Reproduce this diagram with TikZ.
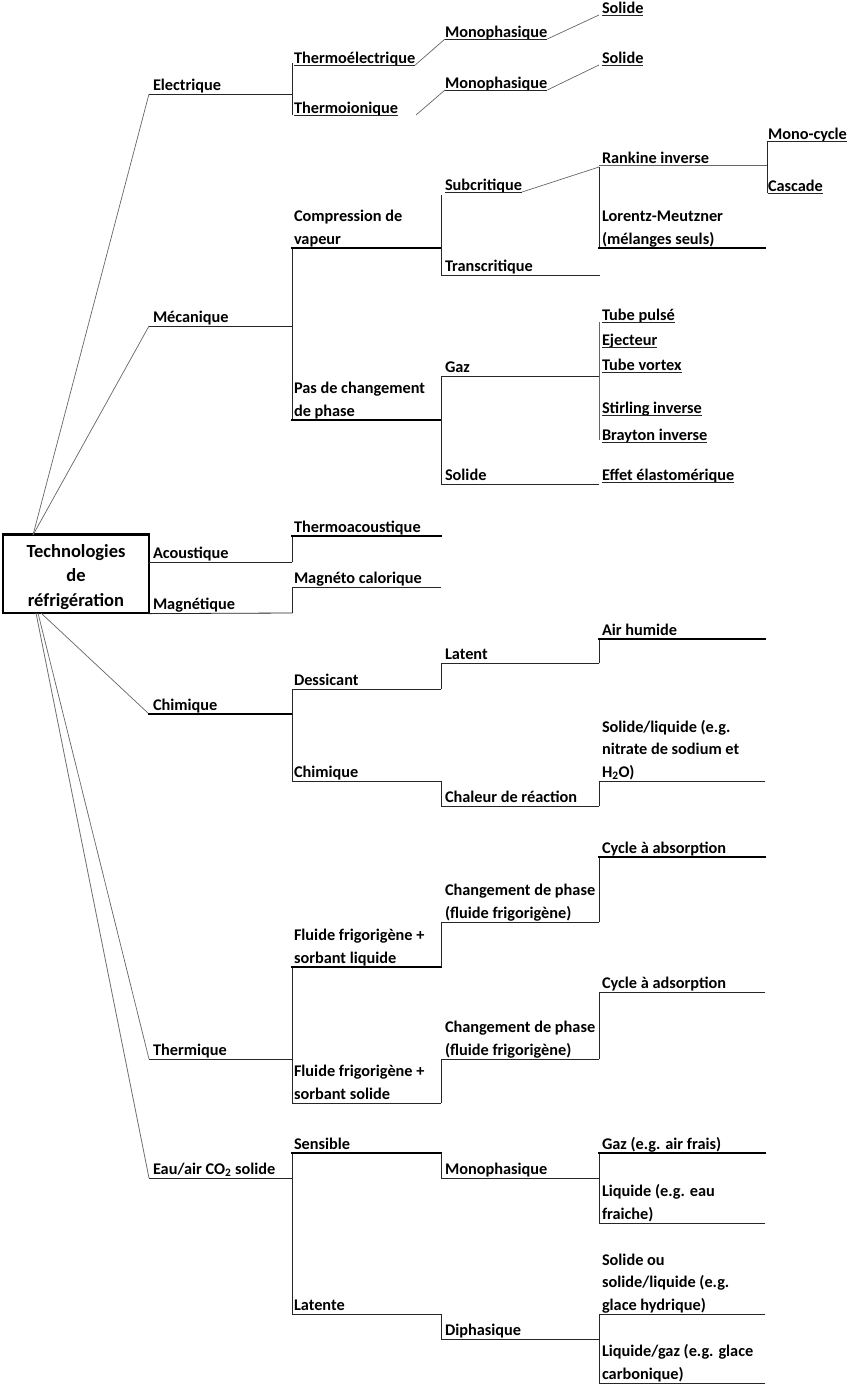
\documentclass[tikz,border=0pt]{standalone}
\usepackage{fontspec}
\setmainfont{Carlito}
\newcommand\lblfont{\fontsize{16.3}{22.5}\selectfont\bfseries}
\newcommand\ttlfont{\fontsize{18.5}{24.5}\selectfont\bfseries}
\tikzset{
  lbl/.style={anchor=base west, inner sep=0pt, outer sep=0pt, font=\lblfont, align=left},
  ln/.style={line width=0.8pt, black!85, line cap=rect},
  thk/.style={line width=1.5pt, black, line cap=rect},
  diag/.style={line width=0.7pt, black!60},
  ul/.style={line width=0.8pt, black!85},
}
\newcommand\ulnode[1]{\draw[ul] ([yshift=-2pt]#1.base west) -- ([yshift=-2pt]#1.base east);}
\begin{document}
\begin{tikzpicture}[x=1pt,y=-1pt]
\useasboundingbox (0,0) rectangle (848,1385);
\fill[white] (0,0) rectangle (848,1385);

% ---------- root ----------
\node[draw, line width=1.2pt, minimum width=146pt, minimum height=78pt, inner sep=0pt] (root) at (76,574) {};
\node[anchor=base, inner sep=0pt, align=center, font=\ttlfont] (ttl) at (76,606) {Technologies\\de\\réfrigération};
\draw[line width=2.4pt] (root.north west) -- (root.north east);
\coordinate (rtop) at (33,535);
\coordinate (rbA) at (41,613);
\coordinate (rbB) at (38,613);
\coordinate (rbC) at (36,613);

% ---------- level 1 labels ----------
\node[lbl] (elec) at (153,90) {Electrique};
\node[lbl] (meca) at (153,322) {Mécanique};
\node[lbl] (acou) at (153,558) {Acoustique};
\node[lbl] (magn) at (153,609) {Magnétique};
\node[lbl] (chim) at (153,710) {Chimique};
\node[lbl] (ther) at (153,1055) {Thermique};
\node[lbl] (eau)  at (153,1174) {Eau/air CO\textsubscript{2} solide};

% level 1 junction points
\coordinate (j1) at (149,94);
\coordinate (j2) at (149,326);
\coordinate (j5) at (149,714);
\coordinate (j6) at (149,1059);
\coordinate (j7) at (149,1178);

\draw[diag] (rtop) -- (j1);
\draw[diag] (rtop) -- (j2);
\draw[diag] (rbA) -- (j5);
\draw[diag] (rbB) -- (j6);
\draw[diag] (rbC) -- (j7);

% ---------- Electrique ----------
\draw[ln] (j1) -- (292,94);
\draw[ln] (292,63) -- (292,115);
\node[lbl] (thel) at (294,63) {Thermoélectrique}; \ulnode{thel}
\node[lbl] (thio) at (294,113) {Thermoionique}; \ulnode{thio}
\node[lbl] (mono1) at (445,37) {Monophasique}; \ulnode{mono1}
\node[lbl] (mono2) at (445,88) {Monophasique}; \ulnode{mono2}
\node[lbl] (sol1) at (602,13) {Solide}; \ulnode{sol1}
\node[lbl] (sol2) at (602,63) {Solide}; \ulnode{sol2}
\coordinate (thioend) at (416,115);
\draw[diag] ([yshift=-2pt]thel.base east) -- ([yshift=-2pt]mono1.base west);
\draw[diag] ([yshift=-2pt]mono1.base east) -- (599,15);
\draw[diag] (thioend) -- ([yshift=-2pt]mono2.base west);
\draw[diag] ([yshift=-2pt]mono2.base east) -- (599,65);

% ---------- Mecanique ----------
\draw[ln] (j2) -- (292,326);
\draw[ln] (292,248) -- (292,420);
\node[lbl] (comp) at (294,244) {Compression de\\vapeur};
\draw[thk] (292,248) -- (441,248);
\draw[ln] (441,195) -- (441,275);
\node[lbl] (subc) at (445,190) {Subcritique}; \ulnode{subc}
\draw[diag] ([yshift=-2pt]subc.base east) -- (599,167);
\draw[ln] (599,167) -- (599,248);
\node[lbl] (rank) at (602,163) {Rankine inverse}; \ulnode{rank}
\draw[diag] (599,165) -- (767,165);
\draw[ln] (767,141) -- (767,193);
\node[lbl] (monoc) at (768,139) {Mono-cycle}; \ulnode{monoc}
\node[lbl] (casc) at (768,191) {Cascade}; \ulnode{casc}
\node[lbl] (lore) at (602,244) {Lorentz-Meutzner\\(mélanges seuls)};
\draw[thk] (599,248) -- (765,248);
\node[lbl] (tran) at (445,271) {Transcritique};
\draw[ln] (441,275) -- (600,275);

\node[lbl] (pasc) at (294,416) {Pas de changement\\de phase};
\draw[thk] (292,420) -- (441,420);
\draw[ln] (441,376) -- (441,484);
\node[lbl] (gaz) at (445,372) {Gaz};
\draw[ln] (441,376) -- (599,376);
\draw[diag] (599,322) -- (599,440);
\node[lbl] (tubp) at (602,320) {Tube pulsé}; \ulnode{tubp}
\node[lbl] (ejec) at (602,345) {Ejecteur}; \ulnode{ejec}
\node[lbl] (tubv) at (602,370) {Tube vortex}; \ulnode{tubv}
\node[lbl] (stir) at (602,413) {Stirling inverse}; \ulnode{stir}
\node[lbl] (bray) at (602,440) {Brayton inverse}; \ulnode{bray}
\node[lbl] (soli) at (445,480) {Solide};
\draw[ln] (441,484) -- (599,484);
\node[lbl] (effe) at (602,480) {Effet élastomérique}; \ulnode{effe}

% ---------- Acoustique / Magnetique ----------
\draw[ln] (root.east |- 0,562) -- (292,562);
\draw[ln] (292,536) -- (292,562);
\node[lbl] (tac) at (294,532) {Thermoacoustique};
\draw[thk] (292,536) -- (441,536);
\draw[ln] (root.south east) -- (292,613);
\draw[ln] (292,587) -- (292,613);
\node[lbl] (mcal) at (294,583) {Magnéto calorique};
\draw[ln] (292,587) -- (441,587);

% ---------- Chimique ----------
\draw[thk] (j5) -- (292,714);
\draw[ln] (292,689) -- (292,781);
\node[lbl] (dess) at (294,685) {Dessicant};
\draw[ln] (292,689) -- (441,689);
\draw[ln] (441,663) -- (441,689);
\node[lbl] (late) at (445,659) {Latent};
\draw[ln] (441,663) -- (599,663);
\draw[ln] (599,639) -- (599,663);
\node[lbl] (airh) at (602,635) {Air humide};
\draw[thk] (599,639) -- (765,639);
\node[lbl] (chi2) at (294,777) {Chimique};
\draw[ln] (292,781) -- (441,781);
\draw[ln] (441,781) -- (441,806);
\node[lbl] (chal) at (445,802) {Chaleur de réaction};
\draw[ln] (441,806) -- (599,806);
\draw[ln] (599,781) -- (599,806);
\node[lbl] (soll) at (602,777) {Solide/liquide (e.g.\\nitrate de sodium et\\H\textsubscript{2}O)};
\draw[ln] (599,781) -- (765,781);

% ---------- Thermique ----------
\draw[ln] (j6) -- (292,1059);
\draw[ln] (292,967) -- (292,1103);
\node[lbl] (ffl) at (294,963) {Fluide frigorigène +\\sorbant liquide};
\draw[thk] (292,967) -- (441,967);
\draw[ln] (441,922) -- (441,967);
\node[lbl] (cp1) at (445,918) {Changement de phase\\(fluide frigorigène)};
\draw[ln] (441,922) -- (599,922);
\draw[ln] (599,857) -- (599,922);
\node[lbl] (cabs) at (602,853) {Cycle à absorption};
\draw[thk] (599,857) -- (765,857);
\node[lbl] (ffs) at (294,1099) {Fluide frigorigène +\\sorbant solide};
\draw[ln] (292,1103) -- (441,1103);
\draw[ln] (441,1059) -- (441,1103);
\node[lbl] (cp2) at (445,1055) {Changement de phase\\(fluide frigorigène)};
\draw[ln] (441,1059) -- (599,1059);
\draw[ln] (599,992) -- (599,1059);
\node[lbl] (cads) at (602,988) {Cycle à adsorption};
\draw[ln] (599,992) -- (765,992);

% ---------- Eau/air ----------
\draw[ln] (j7) -- (292,1178);
\draw[ln] (292,1153) -- (292,1314);
\node[lbl] (sens) at (294,1149) {Sensible};
\draw[thk] (292,1153) -- (441,1153);
\draw[ln] (441,1153) -- (441,1178);
\node[lbl] (mon3) at (445,1174) {Monophasique};
\draw[ln] (441,1178) -- (599,1178);
\draw[ln] (599,1153) -- (599,1223);
\node[lbl] (gaze) at (602,1149) {Gaz (e.g. air frais)};
\draw[thk] (599,1153) -- (765,1153);
\node[lbl] (liqe) at (602,1219) {Liquide (e.g. eau\\fraiche)};
\draw[ln] (599,1223) -- (765,1223);
\node[lbl] (latt) at (294,1310) {Latente};
\draw[ln] (292,1314) -- (441,1314);
\draw[ln] (441,1314) -- (441,1339);
\node[lbl] (diph) at (445,1335) {Diphasique};
\draw[ln] (441,1339) -- (599,1339);
\draw[ln] (599,1314) -- (599,1383);
\node[lbl] (solo) at (602,1310) {Solide ou\\solide/liquide (e.g.\\glace hydrique)};
\draw[ln] (599,1314) -- (765,1314);
\node[lbl] (liqg) at (602,1379) {Liquide/gaz (e.g. glace\\carbonique)};
\draw[ln] (599,1383) -- (765,1383);
\end{tikzpicture}
\end{document}
